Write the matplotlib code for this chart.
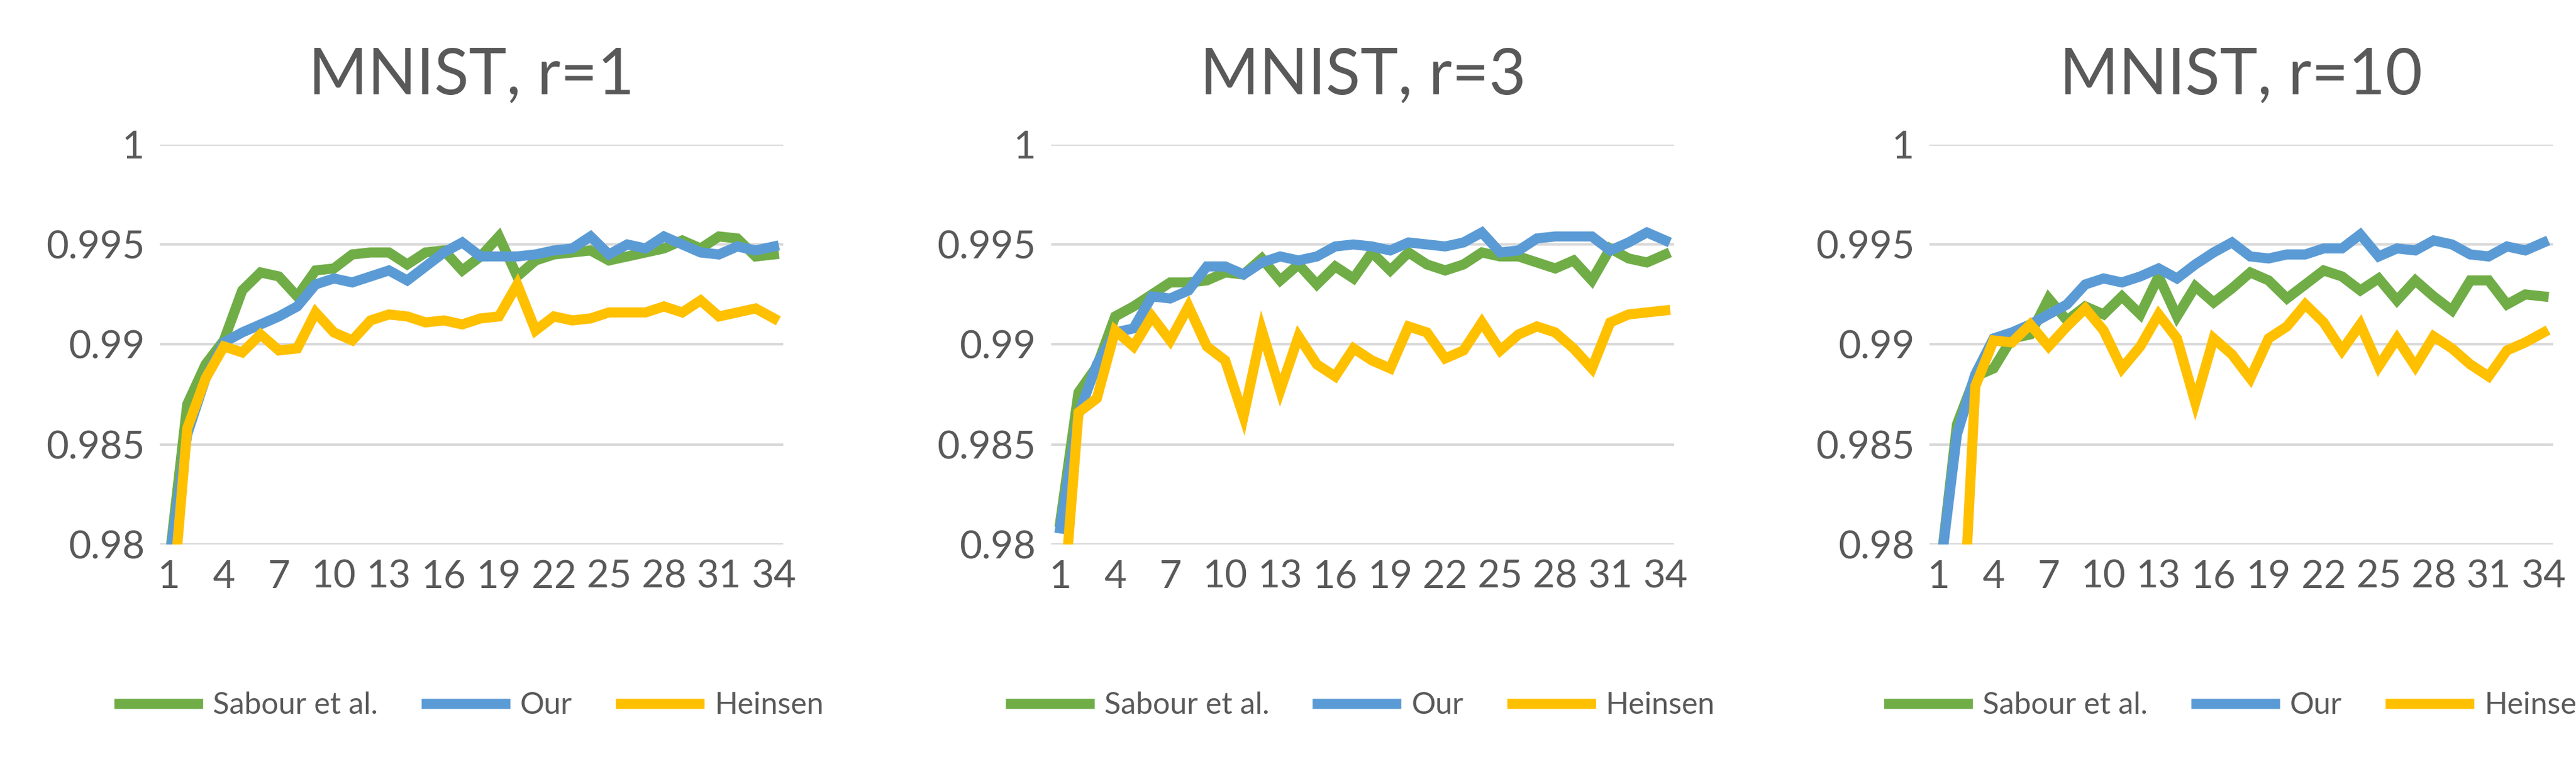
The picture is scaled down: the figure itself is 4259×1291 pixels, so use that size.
import numpy as np
import matplotlib.pyplot as plt

plt.rcParams['font.family'] = ['Lato', 'DejaVu Sans']

epochs = np.arange(1, 35)
titles = ['MNIST, r=1', 'MNIST, r=3', 'MNIST, r=10']

sabour_r1 = [0.9790, 0.9870, 0.9890, 0.9902, 0.9927, 0.9936, 0.9934, 0.9924, 0.9937, 0.9938,
             0.9945, 0.9946, 0.9946, 0.9940, 0.9946, 0.9947, 0.9937, 0.9944, 0.9954, 0.9934,
             0.9942, 0.9945, 0.9946, 0.9947, 0.9942, 0.9944, 0.9946, 0.9948, 0.9952, 0.9948,
             0.9954, 0.9953, 0.9944, 0.9945]
our_r1 = [0.9790, 0.9855, 0.9883, 0.9901, 0.9906, 0.9910, 0.9914, 0.9919, 0.9930, 0.9933,
          0.9931, 0.9934, 0.9937, 0.9932, 0.9939, 0.9946, 0.9951, 0.9944, 0.9944, 0.9944,
          0.9945, 0.9947, 0.9948, 0.9954, 0.9945, 0.9950, 0.9948, 0.9954, 0.9950, 0.9946,
          0.9945, 0.9949, 0.9947, 0.9949]
heinsen_r1 = [0.9750, 0.9858, 0.9883, 0.9899, 0.9896, 0.9905, 0.9897, 0.9898, 0.9916, 0.9906,
              0.9902, 0.9912, 0.9915, 0.9914, 0.9911, 0.9912, 0.9910, 0.9913, 0.9914, 0.9930,
              0.9907, 0.9914, 0.9912, 0.9913, 0.9916, 0.9916, 0.9916, 0.9919, 0.9916, 0.9922,
              0.9914, 0.9916, 0.9918, 0.9913]

sabour_r3 = [0.9811, 0.9876, 0.9889, 0.9914, 0.9919, 0.9925, 0.9931, 0.9931, 0.9932, 0.9936,
             0.9935, 0.9943, 0.9932, 0.9940, 0.9930, 0.9939, 0.9933, 0.9946, 0.9937, 0.9946,
             0.9940, 0.9937, 0.9940, 0.9946, 0.9944, 0.9944, 0.9941, 0.9938, 0.9942, 0.9932,
             0.9948, 0.9943, 0.9941, 0.9945]
our_r3 = [0.9808, 0.9865, 0.9890, 0.9906, 0.9908, 0.9924, 0.9923, 0.9927, 0.9939, 0.9939,
          0.9935, 0.9941, 0.9944, 0.9942, 0.9944, 0.9949, 0.9950, 0.9949, 0.9947, 0.9951,
          0.9950, 0.9949, 0.9951, 0.9956, 0.9946, 0.9947, 0.9953, 0.9954, 0.9954, 0.9954,
          0.9947, 0.9951, 0.9956, 0.9952]
heinsen_r3 = [0.9750, 0.9866, 0.9873, 0.9907, 0.9899, 0.9914, 0.9902, 0.9919, 0.9899, 0.9892,
              0.9864, 0.9907, 0.9877, 0.9904, 0.9890, 0.9884, 0.9898, 0.9892, 0.9888, 0.9909,
              0.9906, 0.9893, 0.9897, 0.9911, 0.9897, 0.9905, 0.9909, 0.9906, 0.9898, 0.9888,
              0.9911, 0.9915, 0.9916, 0.9917]

sabour_r10 = [0.9780, 0.9860, 0.9884, 0.9888, 0.9903, 0.9905, 0.9923, 0.9912, 0.9919, 0.9915,
              0.9924, 0.9915, 0.9934, 0.9914, 0.9929, 0.9921, 0.9928, 0.9936, 0.9932, 0.9923,
              0.9930, 0.9937, 0.9934, 0.9927, 0.9933, 0.9922, 0.9932, 0.9924, 0.9917, 0.9932,
              0.9932, 0.9920, 0.9925, 0.9924]
our_r10 = [0.9780, 0.9855, 0.9885, 0.9903, 0.9906, 0.9910, 0.9915, 0.9920, 0.9930, 0.9933,
           0.9931, 0.9934, 0.9938, 0.9933, 0.9940, 0.9946, 0.9951, 0.9944, 0.9943, 0.9945,
           0.9945, 0.9948, 0.9948, 0.9955, 0.9944, 0.9948, 0.9947, 0.9952, 0.9950, 0.9945,
           0.9944, 0.9949, 0.9947, 0.9951]
heinsen_r10 = [0.9700, 0.9700, 0.9879, 0.9902, 0.9901, 0.9910, 0.9899, 0.9909, 0.9918, 0.9907,
               0.9888, 0.9899, 0.9915, 0.9903, 0.9871, 0.9903, 0.9895, 0.9883, 0.9903, 0.9909,
               0.9920, 0.9911, 0.9897, 0.9910, 0.9889, 0.9903, 0.9889, 0.9904, 0.9898, 0.9890,
               0.9884, 0.9897, 0.9901, 0.9906]

panels = [(sabour_r1, our_r1, heinsen_r1),
          (sabour_r3, our_r3, heinsen_r3),
          (sabour_r10, our_r10, heinsen_r10)]
names = ['Sabour et al.', 'Our', 'Heinsen']
colors = ['#70AD47', '#5B9BD5', '#FFC000']

fig = plt.figure(figsize=(42.59, 12.91), dpi=100)
lefts = [0.062, 0.408, 0.749]
for k, (left, data) in enumerate(zip(lefts, panels)):
    ax = fig.add_axes([left, 0.303, 0.242, 0.512])
    for series, name, c in zip(data, names, colors):
        ax.plot(epochs, series, color=c, lw=12, label=name, solid_joinstyle='miter')
    ax.set_ylim(0.98, 1.0)
    ax.set_xlim(0.5, 34.5)
    ax.set_yticks([0.98, 0.985, 0.99, 0.995, 1])
    ax.set_yticklabels(['0.98', '0.985', '0.99', '0.995', '1'])
    ax.set_xticks(epochs[::3])
    ax.grid(axis='y', color='#D9D9D9', lw=3)
    ax.set_axisbelow(True)
    for s in ax.spines.values():
        s.set_visible(False)
    ax.tick_params(length=0, labelsize=46, colors='#595959', pad=18)
    ax.set_title(titles[k], fontsize=76, color='#595959', pad=60)
    ax.legend(loc='upper center', bbox_to_anchor=(0.5, -0.3), ncol=3, frameon=False,
              fontsize=36, labelcolor='#595959', handlelength=2.6, columnspacing=1.6,
              handletextpad=0.5)

plt.savefig('out.png')
plt.close()
